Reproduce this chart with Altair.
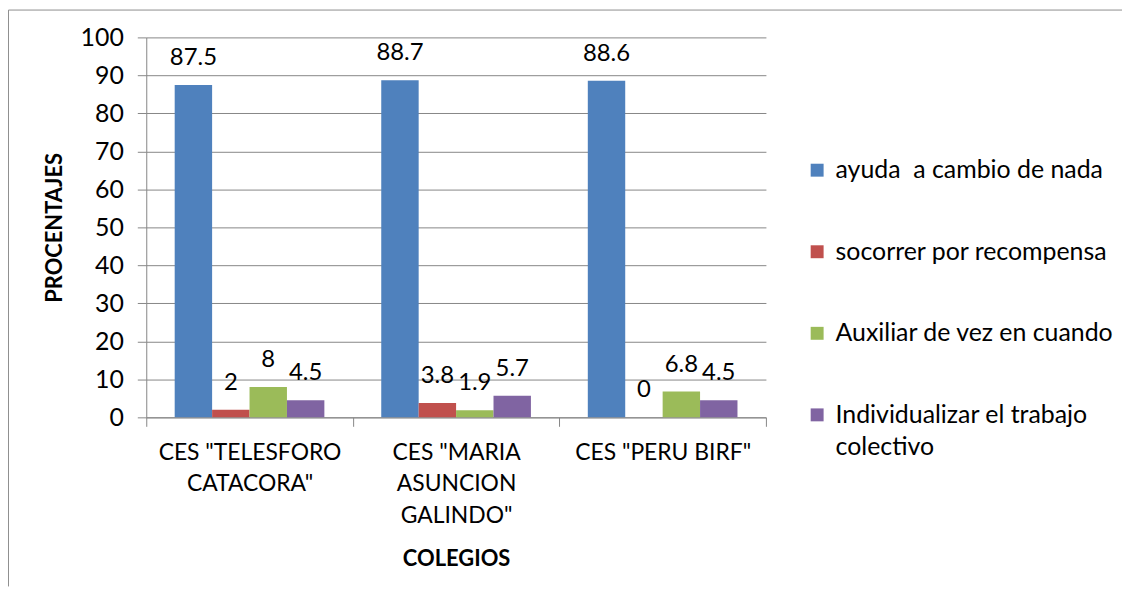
import altair as alt
import pandas as pd

categories = ['CES "TELESFORO CATACORA"', 'CES "MARIA ASUNCION GALINDO"', 'CES "PERU BIRF"']
category_lines = [['CES "TELESFORO', 'CATACORA"'], ['CES "MARIA', 'ASUNCION', 'GALINDO"'], ['CES "PERU BIRF"']]
series = ['ayuda\u00a0 a cambio de nada', 'socorrer por recompensa', 'Auxiliar de vez en cuando',
          'Individualizar el trabajo colectivo']
colors = ['#4F81BD', '#C0504D', '#9BBB59', '#8064A2']

ayuda = [87.5, 88.7, 88.6]
socorrer = [2, 3.8, 0]
auxiliar = [8, 1.9, 6.8]
individualizar = [4.5, 5.7, 4.5]

y_ticks = list(range(0, 101, 10))

values_by_series = [ayuda, socorrer, auxiliar, individualizar]
rows = []
for s, vals in zip(series, values_by_series):
    for c, v in zip(categories, vals):
        rows.append({"colegio": c, "serie": s, "valor": v, "etiqueta": f"{v:g}"})
df = pd.DataFrame(rows)

FONT = "Lato"
GRID = "#868686"


def q(s):
    return "'" + s + "'"


x_expr = ""
for c, lines in zip(categories, category_lines):
    x_expr += f"datum.label == {q(c)} ? [{', '.join(q(l) for l in lines)}] : "
x_expr += "datum.label"

leg_expr = (f"datum.label == {q(series[3])} ? "
            f"[{q('Individualizar el trabajo')}, {q('colectivo')}] : datum.label")

W, H = 623, 382
PAD = {"left": 139, "top": 28, "right": 358, "bottom": 170}

x_enc = alt.X(
    "colegio:N", sort=categories,
    scale=alt.Scale(paddingInner=0, paddingOuter=0),
    axis=alt.Axis(
        title="COLEGIOS", titleFont=FONT, titleFontSize=22, titleFontWeight="bold",
        titleColor="black", titlePadding=21,
        labelExpr=x_expr, labelAngle=0, labelFont=FONT, labelFontSize=23,
        labelColor="black", labelLimit=0, labelLineHeight=32, labelPadding=15,
        tickBand="extent", tickSize=9, tickColor=GRID, domainColor=GRID,
        grid=False,
    ),
)
xoff_enc = alt.XOffset("serie:N", sort=series,
                       scale=alt.Scale(paddingInner=0, paddingOuter=0.76))
y_enc = alt.Y(
    "valor:Q",
    scale=alt.Scale(domain=[0, 100], nice=False),
    axis=alt.Axis(
        title="PROCENTAJES", titleFont=FONT, titleFontSize=22, titleFontWeight="bold",
        titleColor="black", titlePadding=14,
        values=y_ticks, labelOverlap=False, labelFont=FONT, labelFontSize=25,
        labelColor="black", labelPadding=14, tickSize=9, tickColor=GRID,
        domainColor=GRID, grid=True, gridColor=GRID, gridOpacity=1,
    ),
)

bars = alt.Chart(df).mark_bar().encode(
    x=x_enc, xOffset=xoff_enc, y=y_enc,
    color=alt.Color(
        "serie:N", sort=series,
        scale=alt.Scale(domain=series, range=colors),
        legend=alt.Legend(
            title=None, orient="none", legendX=662, legendY=121,
            symbolType="square", symbolSize=169, symbolStrokeWidth=0,
            labelFont=FONT, labelFontSize=25, labelColor="black", labelOffset=6,
            labelLimit=0, rowPadding=56, padding=0, labelExpr=leg_expr,
        ),
    ),
)

labels = alt.Chart(df).mark_text(
    font=FONT, fontSize=24, color="black", baseline="middle", dy=-27
).encode(
    x=x_enc,
    xOffset=xoff_enc,
    y=y_enc,
    text="etiqueta:N",
)

frame_df = pd.DataFrame({"k": [0]})
frame_left = alt.Chart(frame_df).mark_rule(color="#8e8e8e", strokeWidth=1).encode(
    x=alt.value(-138.5), y=alt.value(-27.5), y2=alt.value(H + PAD["bottom"])
)
frame_top = alt.Chart(frame_df).mark_rule(color="#8e8e8e", strokeWidth=1).encode(
    x=alt.value(-138.5), x2=alt.value(W + PAD["right"]), y=alt.value(-27.5)
)

chart = alt.layer(bars, labels, frame_left, frame_top).properties(
    width=W, height=H,
    autosize=alt.AutoSizeParams(type="none"),
    padding=PAD,
    background="white",
).configure(
    view={"strokeWidth": 0},
    style={"guide-label": {"lineHeight": 32}},
)

chart.save("out.html", embed_options={"renderer": "svg", "actions": False})
